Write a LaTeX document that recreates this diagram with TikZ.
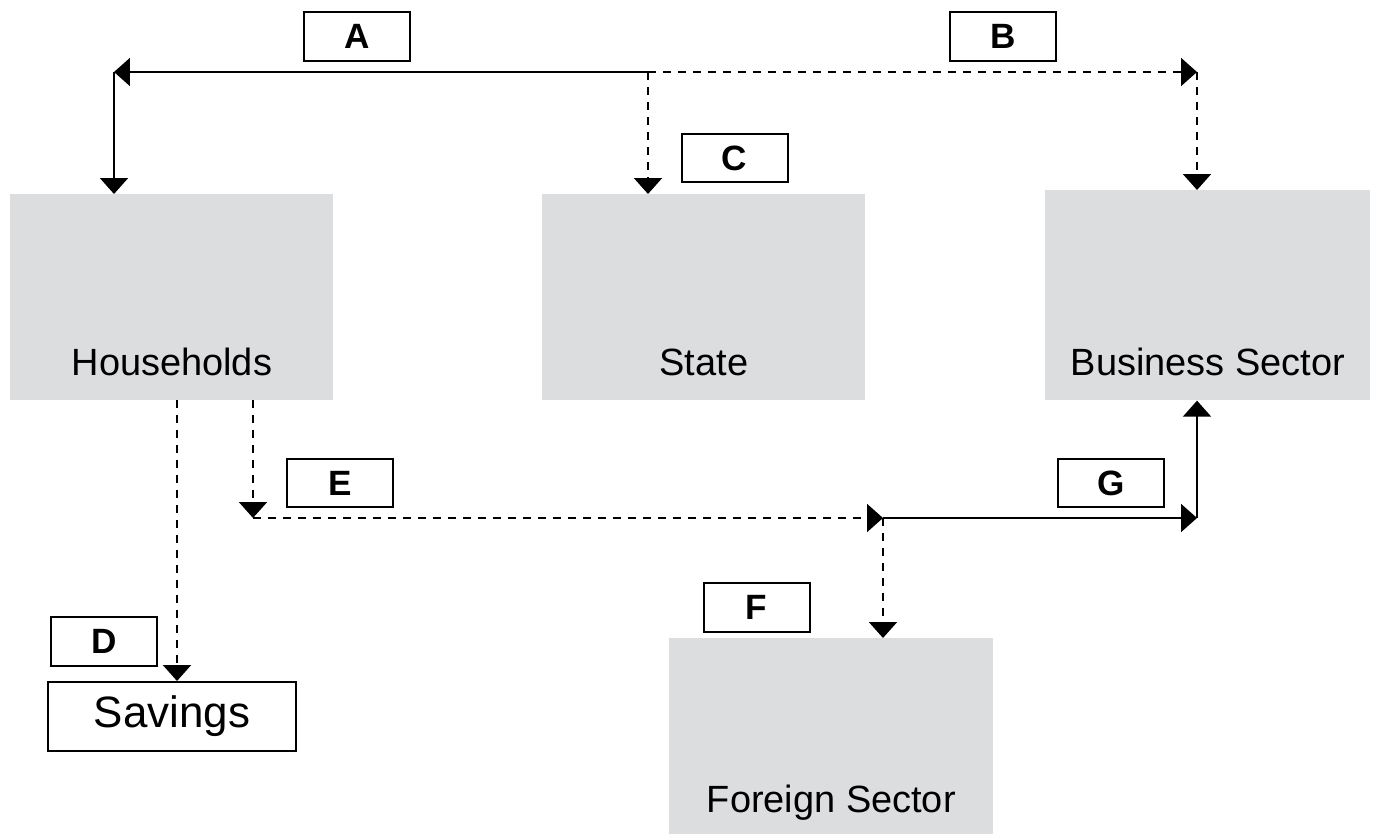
\documentclass[tikz,border=0pt]{standalone}
\usepackage{fontspec}
\setmainfont{Liberation Sans}
\usetikzlibrary{arrows.meta,positioning}

\definecolor{sectorgray}{RGB}{220,221,223}

\begin{document}
\begin{tikzpicture}[x=0.02cm, y=-0.02cm,
          sector/.style = {anchor=north west, fill=sectorgray, inner sep=0pt,
            font=\fontsize{21.6}{26}\selectfont, text depth=0.5cm},
          tag/.style = {draw=black, line width=0.04cm, inner sep=0pt,
            minimum width=2.12cm, minimum height=0.98cm,
            font=\bfseries\fontsize{20}{24}\selectfont},
          flow/.style = {line width=0.04cm, ->},
          dflow/.style = {flow, dash pattern=on 0.16cm off 0.14cm},
          >={Triangle[length=0.32cm, width=0.56cm]}]
        \useasboundingbox (0,0) rectangle (1378,834);

        % sectors
        \node [sector, minimum width=6.46cm, text height=3.62cm] (hh) at (10,194) {Households};
        \node [sector, minimum width=6.46cm, text height=3.62cm] (state) at (542,194) {State};
        \node [sector, minimum width=6.5cm, text height=3.7cm] (biz) at (1045,190) {Business Sector};
        \node [sector, minimum width=6.48cm, text height=3.48cm, text depth=0.44cm] (foreign) at (669,638) {Foreign Sector};
        \node [draw=black, line width=0.04cm, minimum width=4.96cm, minimum height=1.38cm,
            font=\fontsize{25}{30}\selectfont] (sav) at (172,716.5) {Savings};

        % flow labels
        \node [tag] (tagA) at (357,36.5) {A};
        \node [tag] (tagB) at (1003,36.5) {B};
        \node [tag] (tagC) at (734.5,158) {C};
        \node [tag] (tagD) at (104,641.5) {D};
        \node [tag] (tagE) at (340,483) {E};
        \node [tag] (tagF) at (756.5,607) {F};
        \node [tag] (tagG) at (1111,483) {G};

        % branch points
        \coordinate (top) at (648,72);
        \coordinate (topL) at (114,72);
        \coordinate (topR) at (1197,72);
        \coordinate (hhD) at (177,400);
        \coordinate (hhE) at (253,400);
        \coordinate (midL) at (253,518);
        \coordinate (mid) at (883,518);
        \coordinate (midR) at (1197,518);

        \draw [flow] (top) -- (topL);
        \draw [flow] (topL) -- (topL |- hh.north);
        \draw [dflow] (top) -- (topR);
        \draw [dflow] (topR) -- (topR |- biz.north);
        \draw [dflow] (top) -- (top |- state.north);
        \draw [dflow] (hhD) -- (hhD |- sav.north);
        \draw [dflow] (hhE) -- (midL);
        \draw [dflow] (midL) -- (mid);
        \draw [dflow] (mid) -- (mid |- foreign.north);
        \draw [flow] (mid) -- (midR);
        \draw [flow] (midR) -- (midR |- biz.south);
\end{tikzpicture}
\end{document}
